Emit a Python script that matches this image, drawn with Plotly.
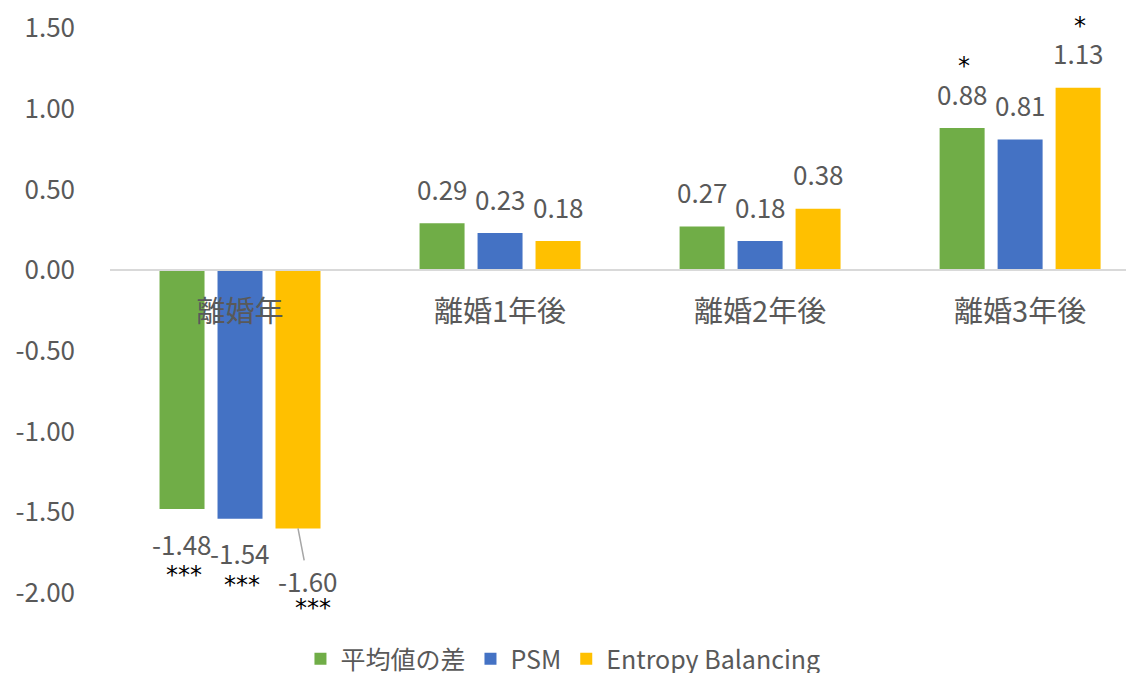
import plotly.graph_objects as go

# データ
categories = ['離婚年', '離婚1年後', '離婚2年後', '離婚3年後']
heikin_sa = [-1.48, 0.29, 0.27, 0.88]
psm = [-1.54, 0.23, 0.18, 0.81]
entropy = [-1.60, 0.18, 0.38, 1.13]
stars_heikin = ['***', '', '', '*']
stars_psm = ['***', '', '', '']
stars_entropy = ['***', '', '', '*']
y_ticks = [-2.0, -1.5, -1.0, -0.5, 0.0, 0.5, 1.0, 1.5]

series = [
    ('平均値の差', heikin_sa, stars_heikin, '#70AD47', -58),
    ('PSM', psm, stars_psm, '#4472C4', 0),
    ('Entropy Balancing', entropy, stars_entropy, '#FFC000', 58),
]

FONT = 'Noto Sans CJK JP'
GREY = '#595959'
NUM = dict(family=FONT, size=26, color=GREY)
STAR = dict(family='DejaVu Sans', size=24, color='black')

fig = go.Figure()
for name, vals, _, color, _ in series:
    fig.add_trace(go.Bar(x=categories, y=vals, name=name, marker_color=color,
                         marker_line_width=0))

# ラベル（値と有意水準の星）
for name, vals, stars, color, dx in series:
    for cat, v, s in zip(categories, vals, stars):
        label = f'{v:.2f}'
        if v < 0 and name == 'Entropy Balancing':
            # 重なりを避けて引き出し線付き
            fig.add_annotation(x=cat, y=v, xshift=dx, text=label, showarrow=True,
                               ax=10, ay=52, arrowhead=0, arrowwidth=1.5,
                               arrowcolor='#a6a6a6', standoff=0, font=NUM)
            if s:
                fig.add_annotation(x=cat, y=v, xshift=dx + 15, yshift=-80, text=s,
                                   showarrow=False, font=STAR)
            continue
        if v >= 0:
            ys, ss = 35, 62
        else:
            ys, ss = -34, -66
        fig.add_annotation(x=cat, y=v, xshift=dx, yshift=ys, text=label,
                           showarrow=False, font=NUM)
        if s:
            fig.add_annotation(x=cat, y=v, xshift=dx + 2, yshift=ss, text=s,
                               showarrow=False, font=STAR)

# ページ本体の余白 (8px) を差し引いた大きさ
fig.update_layout(
    width=1126, height=665,
    margin=dict(l=102, r=0, t=20, b=80, autoexpand=False),
    plot_bgcolor='white', paper_bgcolor='white',
    barmode='group', bargap=0.331, bargroupgap=0.224,
    font=dict(family=FONT, color=GREY),
    legend=dict(orientation='h', x=0.186, xanchor='left',
                y=-0.117, yanchor='middle',
                font=dict(family=FONT, size=25, color=GREY),
                itemwidth=30, traceorder='normal'),
    showlegend=True,
)
fig.update_xaxes(range=[-0.5, 3.438], anchor='free', position=2 / 3.5,
                 showline=True, linecolor='#d9d9d9', linewidth=1.5,
                 showgrid=False, zeroline=False, ticks='',
                 tickfont=dict(family=FONT, size=29, color=GREY),
                 ticklabelstandoff=16)
fig.update_yaxes(range=[-2, 1.5], tickvals=y_ticks,
                 ticktext=[f'{t:.2f}' for t in y_ticks],
                 showgrid=False, zeroline=False, showline=False,
                 tickfont=NUM, ticklabelstandoff=34, ticklabeloverflow='allow')

fig.write_html('out.html')
